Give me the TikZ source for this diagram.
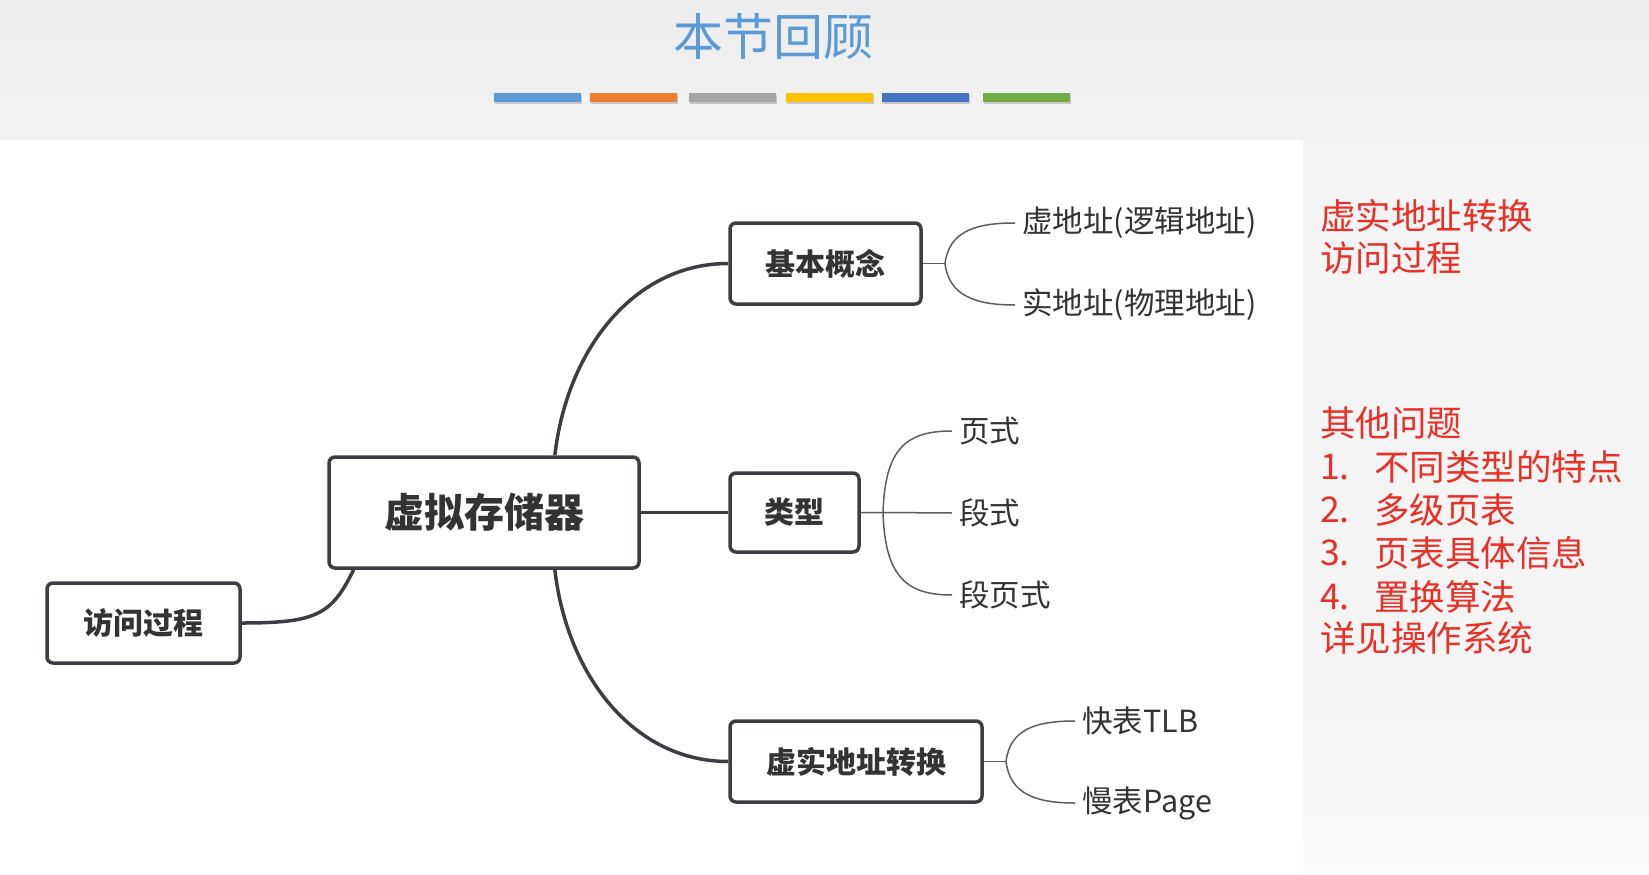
\documentclass[tikz,border=0pt]{standalone}
\usepackage{fontspec}
\newfontfamily\cjk{Noto Sans CJK SC}
\usetikzlibrary{calc}
\definecolor{boxc}{HTML}{3B3F44}
\definecolor{txt}{HTML}{333333}
\definecolor{linec}{HTML}{5A5E63}
\definecolor{redc}{RGB}{232,48,38}
\definecolor{titlec}{HTML}{5B9BD5}
\definecolor{barA}{HTML}{5B9BD5}
\definecolor{barB}{HTML}{ED7D31}
\definecolor{barC}{HTML}{A5A5A5}
\definecolor{barD}{HTML}{FFC000}
\definecolor{barE}{HTML}{4472C4}
\definecolor{barF}{HTML}{70AD47}
\tikzset{
  topic/.style={draw=boxc, line width=3.5pt, rounded corners=6pt, fill=white, text=txt, inner sep=0pt, font=\cjk\bfseries\fontsize{30}{36}\selectfont},
  leaf/.style={anchor=west, inner ysep=2pt, inner xsep=7pt, text=txt, font=\cjk\fontsize{30.5}{36}\selectfont},
  mainline/.style={draw=boxc, line width=3.5pt},
  thinline/.style={draw=linec, line width=1.5pt},
  redtxt/.style={anchor=west, inner sep=0pt, text=redc, font=\cjk\fontsize{35.5}{40}\selectfont},
  colbar/.style={inner sep=0pt, minimum height=9pt, minimum width=87pt}
}
\begin{document}
\begin{tikzpicture}[x=1pt,y=-1pt]
\useasboundingbox (0,0) rectangle (1649,875);
% backgrounds
\shade[top color=black!7, bottom color=black!5] (0,0) rectangle (1649,140);
\fill[white] (0,140) rectangle (1303,875);
\fill[black!4.5] (1303,140) rectangle (1649,690);
\shade[top color=black!4.5, bottom color=black!1.5] (1303,690) rectangle (1649,875);
% title
\node[text=titlec, font=\cjk\fontsize{50}{56}\selectfont, inner sep=0pt] (title) at (773,37) {本节回顾};
% colour bars
\foreach \x/\c [count=\i] in {537.5/barA, 633.5/barB, 732/barC, 829.5/barD, 925.5/barE, 1026/barF}{
  \node[colbar, fill=black!22] (sh\i) at (\x+1,99.5) {};
  \node[colbar, fill=\c] (bar\i) at (\x,97.5) {};
}
% topic nodes
\node[topic, font=\cjk\bfseries\fontsize{40}{48}\selectfont, minimum width=310pt, minimum height=111pt] (c) at (484,512.5) {虚拟存储器};
\node[topic, minimum width=193pt, minimum height=80pt] (fw) at (143.5,623) {访问过程};
\node[topic, minimum width=191pt, minimum height=81pt] (jb) at (825.5,263.5) {基本概念};
\node[topic, minimum width=129pt, minimum height=79pt] (lx) at (794.5,512.5) {类型};
\node[topic, minimum width=252pt, minimum height=81pt] (xs) at (856,761.5) {虚实地址转换};
% main connectors
\coordinate (ctop) at ($(c.north west)!0.726!(c.north east)$);
\coordinate (cbot) at ($(c.south west)!0.726!(c.south east)$);
\coordinate (cbl) at ($(c.south west)!0.084!(c.south east)$);
\draw[mainline] (ctop) .. controls +(12,-105) and +(-95,0) .. (jb.west);
\draw[mainline] (cbot) .. controls +(12,105) and +(-95,0) .. (xs.west);
\draw[mainline] (c.east) -- (lx.west);
\draw[mainline] (cbl) .. controls +(-22,45) and +(75,0) .. (fw.east);
% leaves
\node[leaf] (l1) at (1015,223) {虚地址(逻辑地址)};
\node[leaf] (l2) at (1015,305) {实地址(物理地址)};
\node[leaf] (l3) at (952,431) {页式};
\node[leaf] (l4) at (952,513) {段式};
\node[leaf] (l5) at (952,595) {段页式};
\node[leaf] (l6) at (1075,721) {快表TLB};
\node[leaf] (l7) at (1075,803) {慢表Page};
\coordinate (fjb) at (945,263.5);
\coordinate (flx) at (883,512.5);
\coordinate (fxs) at (1006,761.5);
\draw[thinline] (jb.east) -- (fjb);
\draw[thinline] (fjb) .. controls +(4,-32) and +(-40,0) .. (l1.west);
\draw[thinline] (fjb) .. controls +(4,32) and +(-40,0) .. (l2.west);
\draw[thinline] (lx.east) -- (flx) -- (l4.west);
\draw[thinline] (flx) .. controls +(2,-65) and +(-45,0) .. (l3.west);
\draw[thinline] (flx) .. controls +(2,65) and +(-45,0) .. (l5.west);
\draw[thinline] (xs.east) -- (fxs);
\draw[thinline] (fxs) .. controls +(4,-32) and +(-40,0) .. (l6.west);
\draw[thinline] (fxs) .. controls +(4,32) and +(-40,0) .. (l7.west);
% red notes
\node[redtxt] (r1) at (1320,216) {虚实地址转换};
\node[redtxt] (r2) at (1320,258) {访问过程};
\node[redtxt] (r3) at (1320,423) {其他问题};
\node[redtxt] (n1) at (1320,467) {1.};
\node[redtxt] (r4) at (1374,467) {不同类型的特点};
\node[redtxt] (n2) at (1320,510) {2.};
\node[redtxt] (r5) at (1374,510) {多级页表};
\node[redtxt] (n3) at (1320,553) {3.};
\node[redtxt] (r6) at (1374,553) {页表具体信息};
\node[redtxt] (n4) at (1320,597) {4.};
\node[redtxt] (r7) at (1374,597) {置换算法};
\node[redtxt] (r8) at (1320,638) {详见操作系统};
\end{tikzpicture}
\end{document}
